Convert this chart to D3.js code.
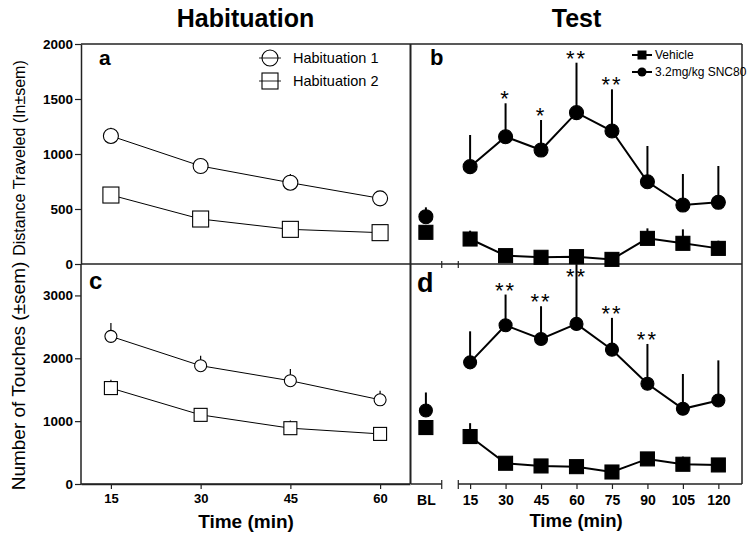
<!DOCTYPE html>
<html>
<head>
<meta charset="utf-8">
<script src="https://cdn.jsdelivr.net/npm/d3@7"></script>
<style>
  html, body { margin: 0; padding: 0; background: #fff; }
  svg { display: block; }
  text { font-family: "Liberation Sans", Arial, sans-serif; fill: #000; }
</style>
</head>
<body>
<svg id="chart" width="751" height="541"></svg>
<script>
// ---------- data ----------
const habTimes = [15, 30, 45, 60];
const habTickLabels = ["15", "30", "45", "60"];
const distHab1 = [1164, 891, 739, 597];
const distHab1Err = [75, 35, 79, 30];
const distHab2 = [627, 409, 315, 285];
const distHab2Err = [30, 25, 25, 20];
const touchHab1 = [2349, 1882, 1643, 1340];
const touchHab1Err = [214, 159, 186, 143];
const touchHab2 = [1526, 1100, 888, 797];
const touchHab2Err = [133, 60, 122, 50];

const testLabels = ["BL", "15", "30", "45", "60", "75", "90", "105", "120"];
const testX = [-3.7, 15, 30, 45, 60, 75, 90, 105, 120];
const distVeh = [288, 227, 76, 61, 67, 42, 233, 188, 142];
const distVehErr = [40, 76, 30, 25, 30, 25, 91, 127, 70];
const distSnc = [430, 885, 1157, 1036, 1376, 1209, 748, 536, 561];
const distSncErr = [85, 288, 304, 273, 454, 379, 325, 282, 330];
const touchVeh = [898, 755, 330, 287, 276, 191, 399, 314, 303];
const touchVehErr = [80, 213, 60, 50, 50, 50, 70, 122, 50];
const touchSnc = [1169, 1935, 2525, 2307, 2547, 2137, 1595, 1196, 1329];
const touchSncErr = [287, 494, 489, 521, 950, 506, 633, 554, 638];
const distStars = ["", "", "*", "*", "**", "**", "", "", ""];
const touchStars = ["", "", "**", "**", "**", "**", "**", "", ""];

const distTicks = [0, 500, 1000, 1500, 2000];
const touchTicks = [0, 1000, 2000, 3000];
const breakTicks = [3, 10];

// ---------- layout ----------
const svg = d3.select("#chart");
const L0 = 81, L1 = 410, R0 = 411, R1 = 742;
const T0 = 44, MID = 264, B0 = 484;

const xL = d3.scaleLinear().domain([10, 65]).range([L0, L1]);
const xR = d3.scaleLinear().domain([-10, 130]).range([R0, R1]);
const yDist = d3.scaleLinear().domain([0, 2000]).range([MID, T0]);
const yTouch = d3.scaleLinear().domain([0, 3500]).range([B0, MID]);

const frameColor = "#222";

// frames
function line(x1, y1, x2, y2, w) {
  svg.append("line").attr("x1", x1).attr("y1", y1).attr("x2", x2).attr("y2", y2)
    .attr("stroke", frameColor).attr("stroke-width", w || 1.5);
}
line(L0, T0, R1, T0);
line(R1, T0, R1, B0);
line(L0, MID, R1, MID);
line(L1 + 0.5, T0, L1 + 0.5, B0, 2);
// right bottom axis with break
line(R0, B0, xR(breakTicks[0]), B0);
line(xR(breakTicks[1]), B0, R1, B0);
line(L0, B0, L1, B0);
breakTicks.forEach(t => {
  line(xR(t), MID - 3, xR(t), MID + 4, 1.2);
  line(xR(t), B0 - 4, xR(t), B0 + 5, 1.2);
});

// y axes
const fmt = d3.format("d");
const yAxA = svg.append("g").attr("transform", `translate(${L0},0)`)
  .call(d3.axisLeft(yDist).tickValues(distTicks).tickFormat(fmt).tickSize(6).tickSizeOuter(0).tickPadding(2));
const yAxC = svg.append("g").attr("transform", `translate(${L0},0)`)
  .call(d3.axisLeft(yTouch).tickValues(touchTicks).tickFormat(fmt).tickSize(6).tickSizeOuter(0).tickPadding(2));
yAxC.select(".domain").attr("d", `M0,${MID}V${B0}`);
const xAxC = svg.append("g").attr("transform", `translate(0,${B0})`)
  .call(d3.axisBottom(xL).tickValues(habTimes).tickFormat((d, i) => habTickLabels[i]).tickSize(5).tickSizeOuter(0).tickPadding(5));
const xAxD = svg.append("g").attr("transform", `translate(0,${B0})`)
  .call(d3.axisBottom(xR).tickValues(testX).tickFormat((d, i) => testLabels[i]).tickSize(5).tickSizeOuter(0).tickPadding(6));
xAxD.select(".domain").remove();
xAxD.selectAll(".tick line").filter((d, i) => i === 0).remove();
[yAxA, yAxC, xAxC, xAxD].forEach(g => {
  g.selectAll(".domain").attr("stroke", frameColor).attr("stroke-width", 1.5);
  g.selectAll(".tick line").attr("stroke", frameColor).attr("stroke-width", 1.2);
  g.selectAll(".tick text").attr("font-family", "Liberation Sans, Arial, sans-serif")
    .attr("font-weight", "bold").attr("font-size", 14).attr("fill", "#000");
});
[yAxA, yAxC].forEach(g => g.selectAll(".tick text").attr("font-size", 13.5));
xAxC.selectAll(".tick text").attr("font-size", 13);

// titles
function txt(x, y, s, size, weight, anchor, family) {
  return svg.append("text").attr("x", x).attr("y", y).text(s)
    .attr("font-size", size).attr("font-weight", weight || "normal")
    .attr("text-anchor", anchor || "start")
    .attr("font-family", family || "Liberation Sans, Arial, sans-serif");
}
txt((L0 + L1) / 2, 27, "Habituation", 25, "bold", "middle");
txt((R0 + R1) / 2, 27, "Test", 25, "bold", "middle");
txt(246, 528, "Time (min)", 19, "bold", "middle");
txt(576, 527, "Time (min)", 18.5, "bold", "middle");
svg.append("text").attr("transform", "translate(25,376) rotate(-90)")
  .attr("text-anchor", "middle").attr("font-size", 19).text("Number of Touches (±sem)");
svg.append("text").attr("transform", "translate(25,158) rotate(-90)")
  .attr("text-anchor", "middle").attr("font-size", 16).text("Distance Traveled (In±sem)");

// panel letters
txt(99, 65, "a", 21, "bold");
txt(430, 65, "b", 22, "bold");
txt(89, 289, "c", 24, "bold", "start", "Liberation Serif, Times New Roman, serif");
txt(417, 292, "d", 27, "bold", "start", "Liberation Serif, Times New Roman, serif");

// ---------- series ----------
function drawSeries(xs, x, y, vals, errs, opt) {
  const g = svg.append("g");
  const idx = d3.range(vals.length);
  g.selectAll("line.err").data(idx).join("line")
    .attr("x1", i => x(xs[i])).attr("x2", i => x(xs[i]))
    .attr("y1", i => y(vals[i])).attr("y2", i => y(vals[i] + errs[i]))
    .attr("stroke", "#000").attr("stroke-width", opt.ew);
  const lineIdx = opt.skipFirst ? idx.slice(1) : idx;
  g.append("path").datum(lineIdx)
    .attr("d", d3.line().x(i => x(xs[i])).y(i => y(vals[i])))
    .attr("fill", "none").attr("stroke", "#000").attr("stroke-width", opt.lw);
  const fill = opt.filled ? "#000" : "#fff";
  if (opt.shape === "circle") {
    g.selectAll("circle").data(idx).join("circle")
      .attr("cx", i => x(xs[i])).attr("cy", i => y(vals[i])).attr("r", opt.size)
      .attr("fill", fill).attr("stroke", "#000").attr("stroke-width", 1.1);
  } else {
    g.selectAll("rect").data(idx).join("rect")
      .attr("x", i => x(xs[i]) - opt.size).attr("y", i => y(vals[i]) - opt.size)
      .attr("width", opt.size * 2).attr("height", opt.size * 2)
      .attr("fill", fill).attr("stroke", "#000").attr("stroke-width", 1.1);
  }
}
// panel a
drawSeries(habTimes, xL, yDist, distHab2, distHab2Err, {shape: "square", size: 8, lw: 1, ew: 1.2});
drawSeries(habTimes, xL, yDist, distHab1, distHab1Err, {shape: "circle", size: 7.5, lw: 1, ew: 1.2});
// panel c
drawSeries(habTimes, xL, yTouch, touchHab2, touchHab2Err, {shape: "square", size: 6.5, lw: 1, ew: 1.2});
drawSeries(habTimes, xL, yTouch, touchHab1, touchHab1Err, {shape: "circle", size: 6, lw: 1, ew: 1.2});
// panel b
drawSeries(testX, xR, yDist, distVeh, distVehErr, {shape: "square", size: 7, lw: 2, ew: 2, filled: true, skipFirst: true});
drawSeries(testX, xR, yDist, distSnc, distSncErr, {shape: "circle", size: 7, lw: 2, ew: 2, filled: true, skipFirst: true});
// panel d
drawSeries(testX, xR, yTouch, touchVeh, touchVehErr, {shape: "square", size: 7, lw: 2, ew: 2, filled: true, skipFirst: true});
drawSeries(testX, xR, yTouch, touchSnc, touchSncErr, {shape: "circle", size: 6.5, lw: 2, ew: 2, filled: true, skipFirst: true});

// significance stars
function stars(y, vals, errs, marks, minY) {
  marks.forEach((m, i) => {
    if (!m) return;
    const top = Math.max(y(vals[i] + errs[i]) - 10, minY);
    svg.append("text").attr("x", xR(testX[i])).attr("y", top + 13)
      .attr("text-anchor", "middle").attr("font-size", 22).attr("letter-spacing", 2)
      .text(m);
  });
}
stars(yDist, distSnc, distSncErr, distStars, T0 + 8);
stars(yTouch, touchSnc, touchSncErr, touchStars, MID + 7);

// legend a
const legA = [{label: "Habituation 1", shape: "circle", y: 58}, {label: "Habituation 2", shape: "square", y: 81}];
legA.forEach(d => {
  line(259, d.y, 281, d.y, 1);
  if (d.shape === "circle") svg.append("circle").attr("cx", 270).attr("cy", d.y).attr("r", 8).attr("fill", "none").attr("stroke", "#000").attr("stroke-width", 1.1);
  else svg.append("rect").attr("x", 262).attr("y", d.y - 8).attr("width", 16).attr("height", 16).attr("fill", "none").attr("stroke", "#000").attr("stroke-width", 1.1);
  txt(293, d.y + 5, d.label, 14.5);
});
// legend b
const legB = [{label: "Vehicle", shape: "square", y: 55}, {label: "3.2mg/kg SNC80", shape: "circle", y: 72}];
legB.forEach(d => {
  svg.append("line").attr("x1", 632).attr("x2", 652).attr("y1", d.y).attr("y2", d.y).attr("stroke", "#000").attr("stroke-width", 2);
  if (d.shape === "circle") svg.append("circle").attr("cx", 642).attr("cy", d.y).attr("r", 4.5).attr("fill", "#000");
  else svg.append("rect").attr("x", 637.5).attr("y", d.y - 4.5).attr("width", 9).attr("height", 9).attr("fill", "#000");
  txt(655, d.y + 4, d.label, 12).attr("fill", "#222");
});
</script>
</body>
</html>
